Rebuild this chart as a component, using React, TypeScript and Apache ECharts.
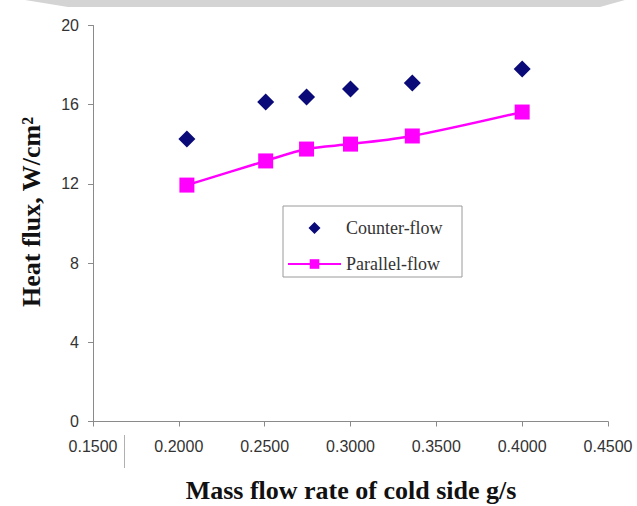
import React, { useEffect, useRef } from "react";
import * as echarts from "echarts";

const massFlow = [0.2047, 0.2506, 0.2744, 0.3, 0.336, 0.4];
const counterFlow = [14.27, 16.14, 16.39, 16.79, 17.1, 17.8];
const parallelFlow = [11.94, 13.16, 13.76, 14.01, 14.42, 15.63];
const seriesNames = ["Counter-flow", "Parallel-flow"];
const xTitle = "Mass flow rate of cold side g/s";
const yTitle = "Heat flux, W/cm²";

export default function App() {
  const ref = useRef<HTMLDivElement>(null);
  useEffect(() => {
    if (!ref.current) return;
    const chart = echarts.init(ref.current, null, { renderer: "svg" });
    const serif = "'Liberation Serif', 'Times New Roman', serif";
    const sans = "'Liberation Sans', Arial, sans-serif";
    chart.setOption({
      animation: false,
      backgroundColor: "#ffffff",
      grid: { left: 93, right: 29, top: 25.5, bottom: 84.5, containLabel: false },
      xAxis: {
        type: "value",
        min: 0.15,
        max: 0.45,
        interval: 0.05,
        axisLine: { lineStyle: { color: "#8a8a8a", width: 1 } },
        axisTick: { show: true, length: 5, lineStyle: { color: "#8a8a8a" } },
        splitLine: { show: false },
        axisLabel: {
          color: "#333",
          fontFamily: sans,
          fontSize: 16,
          margin: 17,
          showMinLabel: true,
          showMaxLabel: true,
          formatter: (v: number) => v.toFixed(4),
        },
      },
      yAxis: {
        type: "value",
        min: 0,
        max: 20,
        interval: 4,
        axisLine: { show: true, lineStyle: { color: "#8a8a8a", width: 1 } },
        axisTick: { show: true, length: 5, lineStyle: { color: "#8a8a8a" } },
        splitLine: { show: false },
        axisLabel: { color: "#333", fontFamily: sans, fontSize: 16, margin: 14 },
      },
      legend: {
        left: 283,
        top: 206,
        orient: "vertical",
        padding: [13, 10, 8, 4],
        itemWidth: 53,
        itemHeight: 12,
        itemGap: 18,
        symbolKeepAspect: true,
        textStyle: { fontFamily: serif, fontSize: 18, color: "#333" },
        data: [
          { name: seriesNames[0], icon: "path://M0,-1L1,0L0,1L-1,0Z" },
          { name: seriesNames[1] },
        ],
      },
      series: [
        {
          name: seriesNames[0],
          type: "scatter",
          symbol: "diamond",
          symbolSize: 17,
          itemStyle: { color: "#0a0a78", opacity: 1 },
          data: massFlow.map((x, i) => [x, counterFlow[i]]),
        },
        {
          name: seriesNames[1],
          type: "line",
          smooth: 0.3,
          symbol: "rect",
          symbolSize: 15,
          lineStyle: { color: "#ff00ff", width: 2.5 },
          itemStyle: { color: "#ff00ff", opacity: 1 },
          data: massFlow.map((x, i) => [x, parallelFlow[i]]),
        },
      ],
      graphic: [
        {
          type: "polygon",
          shape: { points: [[25, 0], [625, 0], [600, 7], [68, 7]] },
          style: { fill: "#d4d4d4" },
          silent: true,
        },
        {
          type: "rect",
          shape: { x: 283, y: 206, width: 179, height: 71 },
          style: { fill: "none", stroke: "#9a9a9a", lineWidth: 1 },
          silent: true,
        },
        {
          type: "line",
          shape: { x1: 124.5, y1: 435, x2: 124.5, y2: 468 },
          style: { stroke: "#b0b0b0", lineWidth: 1 },
          silent: true,
        },
        {
          type: "text",
          x: 351,
          y: 490,
          style: {
            text: xTitle,
            fontFamily: serif,
            fontWeight: "bold",
            fontSize: 26,
            fill: "#111",
            align: "center",
            verticalAlign: "middle",
          },
        },
        {
          type: "text",
          x: 31,
          y: 212,
          rotation: Math.PI / 2,
          style: {
            text: yTitle,
            fontFamily: serif,
            fontWeight: "bold",
            fontSize: 26,
            fill: "#111",
            align: "center",
            verticalAlign: "middle",
          },
        },
      ],
    });
    return () => chart.dispose();
  }, []);
  return <div ref={ref} style={{ width: 637, height: 506, position: "absolute", left: 0, top: 0 }} />;
}
